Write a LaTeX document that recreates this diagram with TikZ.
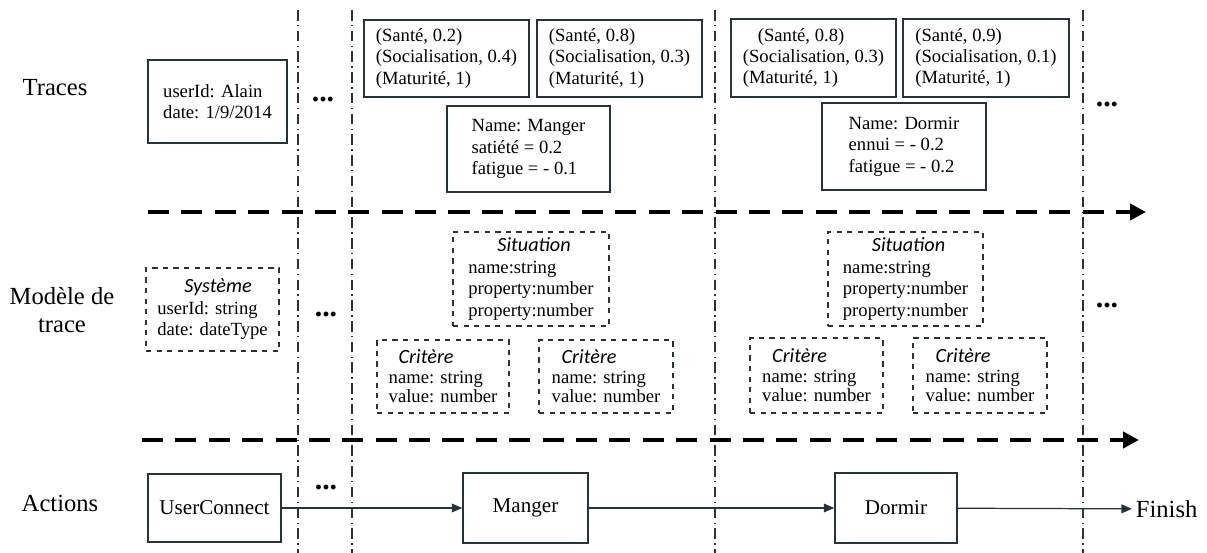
\documentclass[tikz,border=0pt]{standalone}
\usepackage{fontspec}
\setmainfont{Liberation Serif}
\setsansfont{Carlito}
\usetikzlibrary{arrows.meta}

\definecolor{ink}{RGB}{38,52,58}
\newcommand{\mhead}[1]{{\sffamily\itshape\fontsize{11.5}{13}\selectfont #1}}

\tikzset{
  trbox/.style={draw=ink, line width=0.8pt, align=left, inner sep=0pt,
    font=\fontsize{10.6}{12.2}\selectfont},
  mdbox/.style={trbox, dashed},
  crbox/.style={mdbox, font=\fontsize{10.6}{11}\selectfont},
  acbox/.style={draw=ink, line width=0.8pt, inner sep=0pt,
    font=\fontsize{12}{14}\selectfont},
  lbl/.style={align=center, font=\fontsize{14}{16}\selectfont},
  dots/.style={inner sep=0pt, font=\bfseries\fontsize{17}{17}\selectfont},
  sepline/.style={ink, line width=0.6pt,
    dash pattern=on 6pt off 2.5pt on 0.8pt off 2.5pt},
  phase/.style={line width=2.3pt, dash pattern=on 12pt off 7pt,
    -{Triangle[length=9pt,width=9pt]}},
  flow/.style={ink, line width=0.7pt, -{Triangle[length=6pt,width=5pt]}}
}

\begin{document}
\begin{tikzpicture}[x=0.02cm, y=-0.02cm]
  \useasboundingbox (0,0) rectangle (1207,553);

  % Time separators
  \foreach \x [count=\i] in {298,352,715,1083} {
    \coordinate (vt\i) at (\x,10);
    \coordinate (vb\i) at (\x,553);
    \draw[sepline] (vt\i) -- (vb\i);
  }

  % Row labels
  \node[lbl] (lTraces) at (55,88) {Traces};
  \node[lbl] (lModele) at (62,310) {Modèle de\\trace};
  \node[lbl] (lActions) at (60,503) {Actions};

  % Traces row
  \node[trbox, minimum width=2.78cm, minimum height=1.66cm] (tSys) at (217.5,101.5)
    {userId: Alain\\date: 1/9/2014};
  \node[trbox, minimum width=3.3cm, minimum height=1.54cm] (tA1) at (446.5,58.5)
    {(Santé, 0.2)\\(Socialisation, 0.4)\\(Maturité, 1)};
  \node[trbox, minimum width=3.3cm, minimum height=1.54cm] (tA2) at (619.5,58.5)
    {(Santé, 0.8)\\(Socialisation, 0.3)\\(Maturité, 1)};
  \node[trbox, minimum width=3.26cm, minimum height=1.72cm] (tManger) at (528.5,149)
    {Name: Manger\\satiété = 0.2\\fatigue = - 0.1};
  \node[trbox, minimum width=3.3cm, minimum height=1.56cm] (tB1) at (813.5,58)
    {\hspace*{0.3cm}(Santé, 0.8)\\(Socialisation, 0.3)\\(Maturité, 1)};
  \node[trbox, minimum width=3.32cm, minimum height=1.56cm] (tB2) at (986,58)
    {(Santé, 0.9)\\(Socialisation, 0.1)\\(Maturité, 1)};
  \node[trbox, minimum width=3.28cm, minimum height=1.74cm] (tDormir) at (904,146.5)
    {Name: Dormir\\ennui = - 0.2\\fatigue = - 0.2};

  % Trace model row
  \node[mdbox, minimum width=2.66cm, minimum height=1.66cm] (mSys) at (212.5,309.5)
    {\hspace*{0.54cm}\mhead{Système}\\userId: string\\date: dateType};
  \node[mdbox, minimum width=3.12cm, minimum height=1.88cm] (mSitA) at (531,279)
    {\hspace*{0.58cm}\mhead{Situation}\\name:string\\property:number\\property:number};
  \node[crbox, minimum width=2.64cm, minimum height=1.46cm] (mCrA1) at (443,376.5)
    {\hspace*{0.2cm}\mhead{Critère}\\name: string\\value: number};
  \node[crbox, minimum width=2.68cm, minimum height=1.46cm] (mCrA2) at (606,376.5)
    {\hspace*{0.2cm}\mhead{Critère}\\name: string\\value: number};
  \node[mdbox, minimum width=3.1cm, minimum height=1.88cm] (mSitB) at (905.5,279)
    {\hspace*{0.58cm}\mhead{Situation}\\name:string\\property:number\\property:number};
  \node[crbox, minimum width=2.66cm, minimum height=1.5cm] (mCrB1) at (816.5,375.5)
    {\hspace*{0.2cm}\mhead{Critère}\\name: string\\value: number};
  \node[crbox, minimum width=2.68cm, minimum height=1.5cm] (mCrB2) at (980,375.5)
    {\hspace*{0.2cm}\mhead{Critère}\\name: string\\value: number};

  % Actions row
  \node[acbox, minimum width=2.66cm, minimum height=1.36cm] (aUser) at (214.5,508) {UserConnect};
  \node[acbox, minimum width=2.5cm, minimum height=1.4cm] (aManger) at (525.5,508) {Manger};
  \node[acbox, minimum width=2.44cm, minimum height=1.4cm] (aDormir) at (896,508) {Dormir};
  \node[lbl, anchor=west, inner sep=2pt] (aFinish) at (1132,509) {Finish};

  \draw[flow] (aUser) -- (aManger);
  \draw[flow] (aManger) -- (aDormir);
  \draw[flow] (aDormir) -- (aFinish);

  % Continuation marks
  \node[dots] (d1) at (323,100) {...};
  \node[dots] (d2) at (326,315) {...};
  \node[dots] (d3) at (326,488) {...};
  \node[dots] (d4) at (1107,105) {...};
  \node[dots] (d5) at (1107,306) {...};

  % Level boundaries
  \coordinate (p1s) at (148,212);
  \coordinate (p1e) at (1146,212);
  \coordinate (p2s) at (142,440);
  \coordinate (p2e) at (1139,440);
  \draw[phase] (p1s) -- (p1e);
  \draw[phase] (p2s) -- (p2e);
\end{tikzpicture}
\end{document}
